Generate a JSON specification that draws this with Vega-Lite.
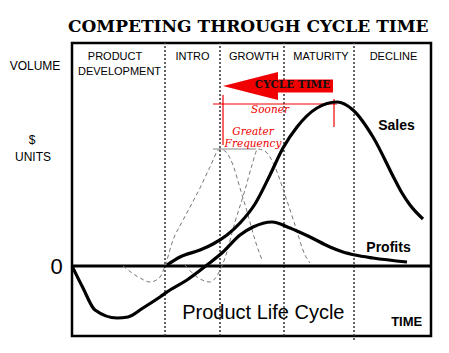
{
  "$schema": "https://vega.github.io/schema/vega-lite/v6.json",
  "width": 359,
  "height": 293,
  "autosize": {"type": "none"},
  "padding": {"left": 72, "top": 43, "right": 18, "bottom": 17},
  "background": "white",
  "config": {"view": {"stroke": "black", "strokeWidth": 2.5}},
  "datasets": {
    "curves": [
      {"s": "Sales", "x": 95, "y": 1}, {"s": "Sales", "x": 108, "y": 9}, {"s": "Sales", "x": 128, "y": 16}, {"s": "Sales", "x": 141, "y": 22}, {"s": "Sales", "x": 155, "y": 31}, {"s": "Sales", "x": 168, "y": 43}, {"s": "Sales", "x": 183, "y": 62}, {"s": "Sales", "x": 198, "y": 91}, {"s": "Sales", "x": 211, "y": 118}, {"s": "Sales", "x": 225, "y": 139}, {"s": "Sales", "x": 245, "y": 158}, {"s": "Sales", "x": 265, "y": 164}, {"s": "Sales", "x": 281, "y": 156}, {"s": "Sales", "x": 301, "y": 129}, {"s": "Sales", "x": 323, "y": 86}, {"s": "Sales", "x": 330, "y": 73}, {"s": "Sales", "x": 338, "y": 61}, {"s": "Sales", "x": 351, "y": 47},
      {"s": "Profits", "x": 0, "y": 0}, {"s": "Profits", "x": 11, "y": -22}, {"s": "Profits", "x": 23, "y": -44}, {"s": "Profits", "x": 45, "y": -52}, {"s": "Profits", "x": 56, "y": -51}, {"s": "Profits", "x": 71, "y": -42}, {"s": "Profits", "x": 88, "y": -31}, {"s": "Profits", "x": 98, "y": -24}, {"s": "Profits", "x": 115, "y": -14}, {"s": "Profits", "x": 135, "y": 1}, {"s": "Profits", "x": 151, "y": 14}, {"s": "Profits", "x": 168, "y": 31}, {"s": "Profits", "x": 181, "y": 39}, {"s": "Profits", "x": 200, "y": 44}, {"s": "Profits", "x": 218, "y": 38}, {"s": "Profits", "x": 238, "y": 29}, {"s": "Profits", "x": 258, "y": 19}, {"s": "Profits", "x": 271, "y": 14}, {"s": "Profits", "x": 283, "y": 11}, {"s": "Profits", "x": 301, "y": 8}, {"s": "Profits", "x": 335, "y": 4},
      {"s": "A", "x": 51, "y": 0}, {"s": "A", "x": 68, "y": -12}, {"s": "A", "x": 78, "y": -16}, {"s": "A", "x": 88, "y": -11}, {"s": "A", "x": 93, "y": 0}, {"s": "A", "x": 101, "y": 26}, {"s": "A", "x": 110, "y": 44}, {"s": "A", "x": 118, "y": 59}, {"s": "A", "x": 128, "y": 78}, {"s": "A", "x": 138, "y": 99}, {"s": "A", "x": 148, "y": 117}, {"s": "A", "x": 154, "y": 114}, {"s": "A", "x": 161, "y": 101}, {"s": "A", "x": 168, "y": 78}, {"s": "A", "x": 176, "y": 51}, {"s": "A", "x": 183, "y": 26}, {"s": "A", "x": 190, "y": 6},
      {"s": "B", "x": 113, "y": 1}, {"s": "B", "x": 125, "y": -11}, {"s": "B", "x": 138, "y": -16}, {"s": "B", "x": 146, "y": -8}, {"s": "B", "x": 153, "y": 8}, {"s": "B", "x": 163, "y": 44}, {"s": "B", "x": 173, "y": 76}, {"s": "B", "x": 180, "y": 101}, {"s": "B", "x": 186, "y": 117}, {"s": "B", "x": 194, "y": 114}, {"s": "B", "x": 203, "y": 99}, {"s": "B", "x": 213, "y": 71}, {"s": "B", "x": 223, "y": 41}, {"s": "B", "x": 233, "y": 11}, {"s": "B", "x": 238, "y": 3}
    ],
    "phases": [
      {"x": 93, "y": -70, "x2": 93, "y2": 223},
      {"x": 148, "y": -70, "x2": 148, "y2": 223},
      {"x": 212, "y": -70, "x2": 212, "y2": 223},
      {"x": 282, "y": -74, "x2": 282, "y2": 223}
    ],
    "zero": [{"x": 0, "y": 0, "x2": 359, "y2": 0}],
    "grayline": [{"x": 141, "y": 117, "x2": 184, "y2": 117}],
    "redlines": [
      {"x": 141, "y": 162, "x2": 265, "y2": 162},
      {"x": 151, "y": 171, "x2": 151, "y2": 121},
      {"x": 262, "y": 167, "x2": 262, "y2": 139}
    ],
    "arrow": [{"x": 206, "y": 180}],
    "arrowtext": [{"label": "CYCLE TIME", "x": 220.5, "y": 181}],
    "title": [{"label": "COMPETING THROUGH CYCLE TIME", "x": 176.3, "y": 239.5}],
    "phaselabels": [
      {"label": "PRODUCT", "x": 43, "y": 209},
      {"label": "DEVELOPMENT", "x": 47.5, "y": 194},
      {"label": "INTRO", "x": 120.5, "y": 209},
      {"label": "GROWTH", "x": 182, "y": 209},
      {"label": "MATURITY", "x": 249, "y": 209},
      {"label": "DECLINE", "x": 321.5, "y": 209}
    ],
    "leftlabels": [
      {"label": "VOLUME", "x": -37, "y": 200},
      {"label": "$", "x": -40, "y": 126},
      {"label": "UNITS", "x": -39, "y": 109}
    ],
    "zerolabel": [{"label": "0", "x": -15.5, "y": -1}],
    "serieslabels": [
      {"label": "Sales", "x": 324.5, "y": 140},
      {"label": "Profits", "x": 316.5, "y": 18}
    ],
    "plc": [{"label": "Product Life Cycle", "x": 191.3, "y": -47}],
    "time": [{"label": "TIME", "x": 334.7, "y": -56}],
    "redtext": [
      {"label": "Sooner", "x": 198, "y": 156},
      {"label": "Greater", "x": 181, "y": 134.5},
      {"label": "Frequency", "x": 181, "y": 122.5}
    ]
  },
  "layer": [
    {
      "data": {"name": "phases"},
      "mark": {"type": "rule", "color": "#333", "strokeWidth": 1.5, "strokeDash": [2, 2]},
      "encoding": {
        "x": {"field": "x", "type": "quantitative", "scale": {"domain": [0, 359], "nice": false, "zero": false}, "axis": null},
        "y": {"field": "y", "type": "quantitative", "scale": {"domain": [-70, 223], "nice": false, "zero": false}, "axis": null},
        "x2": {"field": "x2"},
        "y2": {"field": "y2"}
      }
    },
    {
      "data": {"name": "zero"},
      "mark": {"type": "rule", "color": "black", "strokeWidth": 3},
      "encoding": {
        "x": {"field": "x", "type": "quantitative", "scale": {"domain": [0, 359], "nice": false, "zero": false}, "axis": null},
        "y": {"field": "y", "type": "quantitative", "scale": {"domain": [-70, 223], "nice": false, "zero": false}, "axis": null},
        "x2": {"field": "x2"},
        "y2": {"field": "y2"}
      }
    },
    {
      "data": {"name": "curves"},
      "transform": [{"filter": "datum.s === 'A' || datum.s === 'B'"}],
      "mark": {"type": "line", "color": "#777", "strokeWidth": 1, "strokeDash": [4, 3], "interpolate": "monotone"},
      "encoding": {
        "x": {"field": "x", "type": "quantitative", "scale": {"domain": [0, 359], "nice": false, "zero": false}, "axis": null},
        "y": {"field": "y", "type": "quantitative", "scale": {"domain": [-70, 223], "nice": false, "zero": false}, "axis": null},
        "detail": {"field": "s"}
      }
    },
    {
      "data": {"name": "grayline"},
      "mark": {"type": "rule", "color": "#888", "strokeWidth": 1},
      "encoding": {
        "x": {"field": "x", "type": "quantitative", "scale": {"domain": [0, 359], "nice": false, "zero": false}, "axis": null},
        "y": {"field": "y", "type": "quantitative", "scale": {"domain": [-70, 223], "nice": false, "zero": false}, "axis": null},
        "x2": {"field": "x2"},
        "y2": {"field": "y2"}
      }
    },
    {
      "data": {"name": "redlines"},
      "mark": {"type": "rule", "color": "#f00000", "strokeWidth": 1.2},
      "encoding": {
        "x": {"field": "x", "type": "quantitative", "scale": {"domain": [0, 359], "nice": false, "zero": false}, "axis": null},
        "y": {"field": "y", "type": "quantitative", "scale": {"domain": [-70, 223], "nice": false, "zero": false}, "axis": null},
        "x2": {"field": "x2"},
        "y2": {"field": "y2"}
      }
    },
    {
      "data": {"name": "arrow"},
      "mark": {"type": "point", "shape": "M-1,0L0,-0.255L0,-0.12L1,-0.12L1,0.12L0,0.12L0,0.255Z", "filled": true, "color": "#f00000", "opacity": 1, "size": 12100, "strokeWidth": 0},
      "encoding": {
        "x": {"field": "x", "type": "quantitative", "scale": {"domain": [0, 359], "nice": false, "zero": false}, "axis": null},
        "y": {"field": "y", "type": "quantitative", "scale": {"domain": [-70, 223], "nice": false, "zero": false}, "axis": null}
      }
    },
    {
      "data": {"name": "arrowtext"},
      "mark": {"type": "text", "font": "DejaVu Serif", "fontWeight": "bold", "fontSize": 10.5, "color": "#111", "align": "center", "baseline": "middle"},
      "encoding": {
        "x": {"field": "x", "type": "quantitative", "scale": {"domain": [0, 359], "nice": false, "zero": false}, "axis": null},
        "y": {"field": "y", "type": "quantitative", "scale": {"domain": [-70, 223], "nice": false, "zero": false}, "axis": null},
        "text": {"field": "label"}
      }
    },
    {
      "data": {"name": "curves"},
      "transform": [{"filter": "datum.s === 'Sales' || datum.s === 'Profits'"}],
      "mark": {"type": "line", "color": "black", "strokeWidth": 3.2, "interpolate": "monotone"},
      "encoding": {
        "x": {"field": "x", "type": "quantitative", "scale": {"domain": [0, 359], "nice": false, "zero": false}, "axis": null},
        "y": {"field": "y", "type": "quantitative", "scale": {"domain": [-70, 223], "nice": false, "zero": false}, "axis": null},
        "detail": {"field": "s"}
      }
    },
    {
      "data": {"name": "title"},
      "mark": {"type": "text", "font": "DejaVu Serif", "fontWeight": "bold", "fontSize": 17, "color": "black", "align": "center", "baseline": "middle"},
      "encoding": {
        "x": {"field": "x", "type": "quantitative", "scale": {"domain": [0, 359], "nice": false, "zero": false}, "axis": null},
        "y": {"field": "y", "type": "quantitative", "scale": {"domain": [-70, 223], "nice": false, "zero": false}, "axis": null},
        "text": {"field": "label"}
      }
    },
    {
      "data": {"name": "phaselabels"},
      "mark": {"type": "text", "font": "Liberation Sans", "fontSize": 11, "color": "black", "align": "center", "baseline": "middle"},
      "encoding": {
        "x": {"field": "x", "type": "quantitative", "scale": {"domain": [0, 359], "nice": false, "zero": false}, "axis": null},
        "y": {"field": "y", "type": "quantitative", "scale": {"domain": [-70, 223], "nice": false, "zero": false}, "axis": null},
        "text": {"field": "label"}
      }
    },
    {
      "data": {"name": "leftlabels"},
      "mark": {"type": "text", "font": "Liberation Sans", "fontSize": 12, "color": "black", "align": "center", "baseline": "middle"},
      "encoding": {
        "x": {"field": "x", "type": "quantitative", "scale": {"domain": [0, 359], "nice": false, "zero": false}, "axis": null},
        "y": {"field": "y", "type": "quantitative", "scale": {"domain": [-70, 223], "nice": false, "zero": false}, "axis": null},
        "text": {"field": "label"}
      }
    },
    {
      "data": {"name": "zerolabel"},
      "mark": {"type": "text", "font": "Liberation Sans", "fontSize": 22, "color": "black", "align": "center", "baseline": "middle"},
      "encoding": {
        "x": {"field": "x", "type": "quantitative", "scale": {"domain": [0, 359], "nice": false, "zero": false}, "axis": null},
        "y": {"field": "y", "type": "quantitative", "scale": {"domain": [-70, 223], "nice": false, "zero": false}, "axis": null},
        "text": {"field": "label"}
      }
    },
    {
      "data": {"name": "serieslabels"},
      "mark": {"type": "text", "font": "Liberation Sans", "fontWeight": "bold", "fontSize": 14, "color": "black", "align": "center", "baseline": "middle"},
      "encoding": {
        "x": {"field": "x", "type": "quantitative", "scale": {"domain": [0, 359], "nice": false, "zero": false}, "axis": null},
        "y": {"field": "y", "type": "quantitative", "scale": {"domain": [-70, 223], "nice": false, "zero": false}, "axis": null},
        "text": {"field": "label"}
      }
    },
    {
      "data": {"name": "plc"},
      "mark": {"type": "text", "font": "Liberation Sans", "fontSize": 20, "color": "black", "align": "center", "baseline": "middle"},
      "encoding": {
        "x": {"field": "x", "type": "quantitative", "scale": {"domain": [0, 359], "nice": false, "zero": false}, "axis": null},
        "y": {"field": "y", "type": "quantitative", "scale": {"domain": [-70, 223], "nice": false, "zero": false}, "axis": null},
        "text": {"field": "label"}
      }
    },
    {
      "data": {"name": "time"},
      "mark": {"type": "text", "font": "Liberation Sans", "fontWeight": "bold", "fontSize": 13, "color": "black", "align": "center", "baseline": "middle"},
      "encoding": {
        "x": {"field": "x", "type": "quantitative", "scale": {"domain": [0, 359], "nice": false, "zero": false}, "axis": null},
        "y": {"field": "y", "type": "quantitative", "scale": {"domain": [-70, 223], "nice": false, "zero": false}, "axis": null},
        "text": {"field": "label"}
      }
    },
    {
      "data": {"name": "redtext"},
      "mark": {"type": "text", "font": "DejaVu Serif", "fontStyle": "italic", "fontSize": 10.5, "color": "#f00000", "align": "center", "baseline": "middle"},
      "encoding": {
        "x": {"field": "x", "type": "quantitative", "scale": {"domain": [0, 359], "nice": false, "zero": false}, "axis": null},
        "y": {"field": "y", "type": "quantitative", "scale": {"domain": [-70, 223], "nice": false, "zero": false}, "axis": null},
        "text": {"field": "label"}
      }
    }
  ]
}
